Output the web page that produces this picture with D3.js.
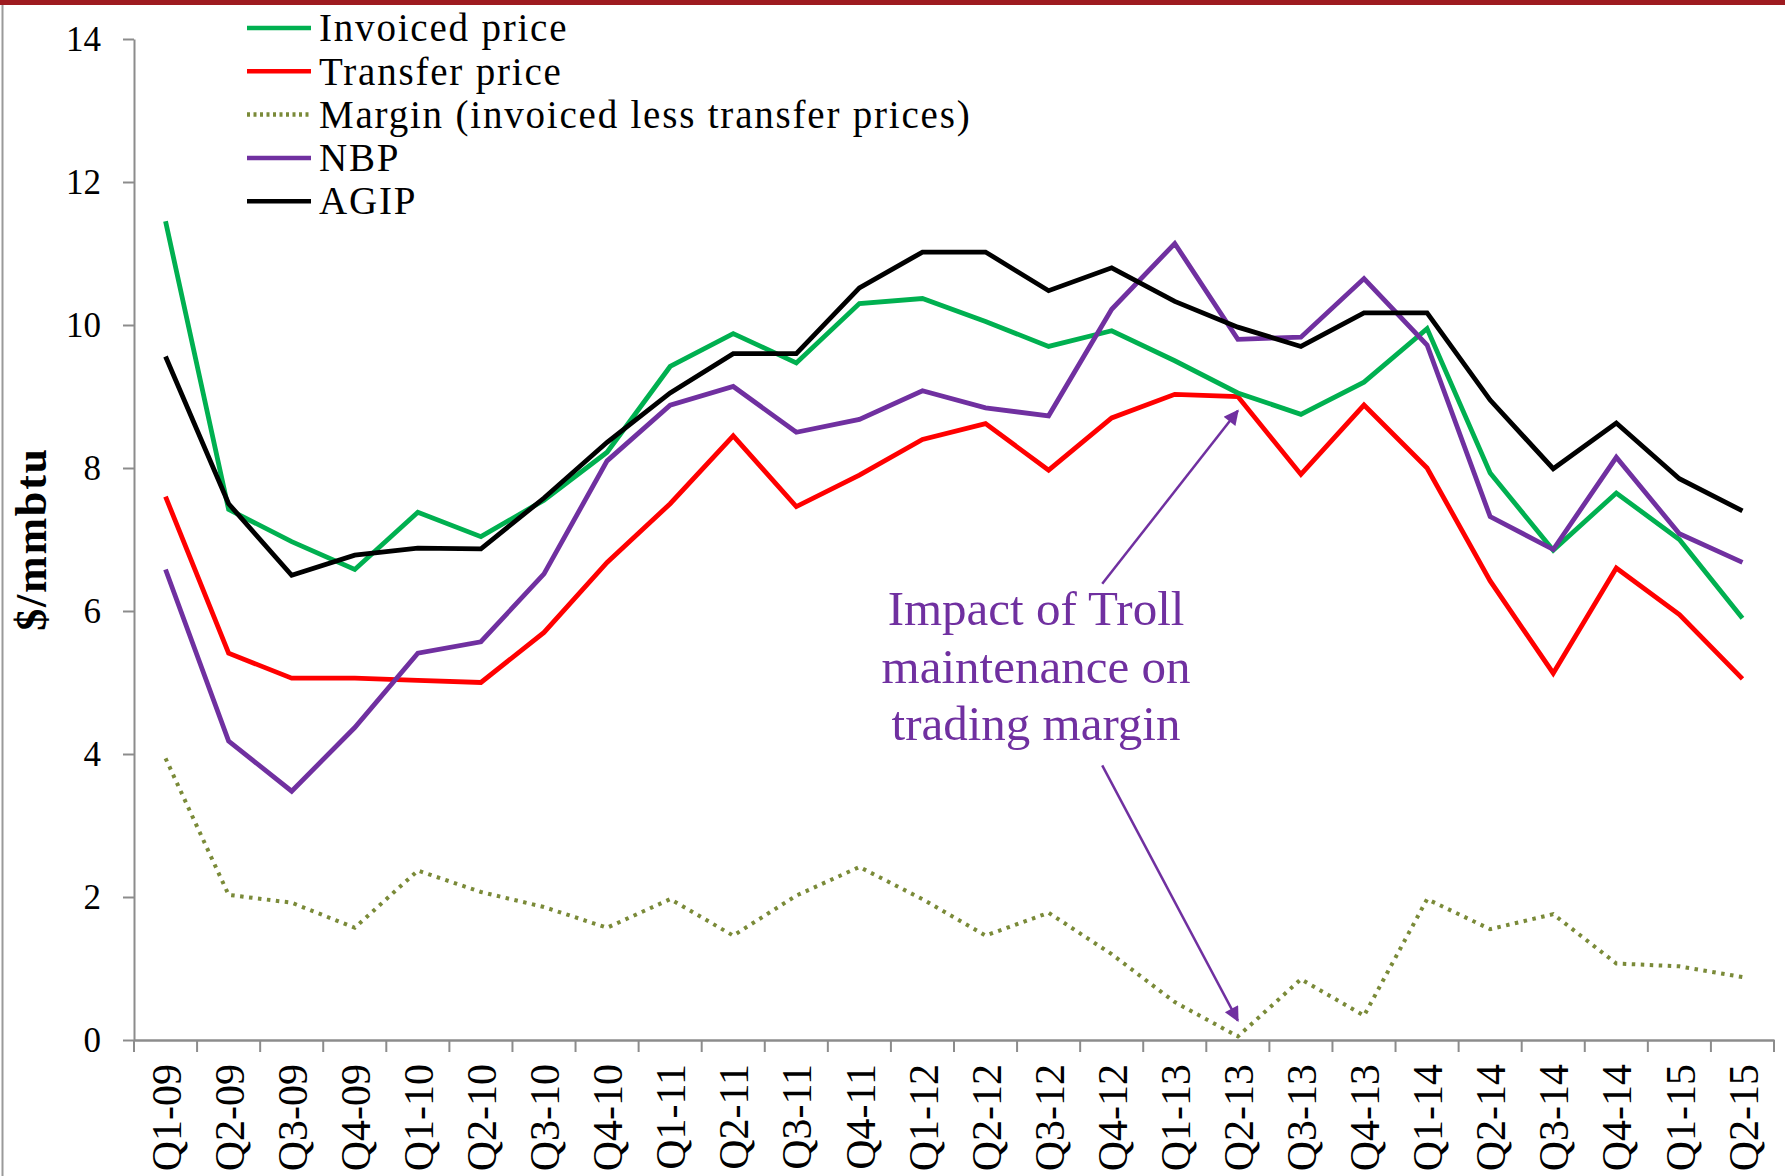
<!DOCTYPE html>
<html>
<head>
<meta charset="utf-8">
<script src="https://cdn.jsdelivr.net/npm/d3@7"></script>
<style>
  html, body { margin: 0; padding: 0; background: #fff; }
  svg { display: block; }
</style>
</head>
<body>
<div id="chart"></div>
<script>
/* Quarterly gas prices: invoiced vs transfer, margin, NBP and AGIP ($/mmbtu) */
var quarters = ["Q1-09","Q2-09","Q3-09","Q4-09","Q1-10","Q2-10","Q3-10","Q4-10",
  "Q1-11","Q2-11","Q3-11","Q4-11","Q1-12","Q2-12","Q3-12","Q4-12",
  "Q1-13","Q2-13","Q3-13","Q4-13","Q1-14","Q2-14","Q3-14","Q4-14","Q1-15","Q2-15"];

var invoiced = [11.45, 7.42, 6.97, 6.58, 7.38, 7.04, 7.55, 8.22, 9.42, 9.88, 9.47, 10.3,
  10.37, 10.05, 9.7, 9.92, 9.5, 9.05, 8.75, 9.2, 9.95, 7.93, 6.85, 7.65, 7.0, 5.9];
var transfer = [7.6, 5.41, 5.06, 5.06, 5.03, 5.0, 5.7, 6.68, 7.5, 8.45, 7.46, 7.9,
  8.4, 8.62, 7.97, 8.7, 9.03, 9.0, 7.91, 8.88, 8.0, 6.42, 5.13, 6.6, 5.95, 5.05];
var margin = [3.94, 2.03, 1.92, 1.57, 2.37, 2.07, 1.86, 1.57, 1.97, 1.46, 2.02, 2.42,
  1.97, 1.46, 1.78, 1.2, 0.53, 0.05, 0.85, 0.34, 1.97, 1.55, 1.76, 1.07, 1.03, 0.88];
var nbp = [6.58, 4.18, 3.48, 4.37, 5.41, 5.57, 6.52, 8.1, 8.88, 9.14, 8.5, 8.68,
  9.08, 8.84, 8.73, 10.22, 11.14, 9.8, 9.83, 10.65, 9.72, 7.32, 6.86, 8.15, 7.08, 6.68];
var agip = [9.56, 7.5, 6.5, 6.78, 6.88, 6.87, 7.58, 8.36, 9.05, 9.6, 9.6, 10.52,
  11.02, 11.02, 10.48, 10.8, 10.33, 9.97, 9.7, 10.17, 10.17, 8.95, 7.99, 8.63, 7.85, 7.4];

var yTicks = [0, 2, 4, 6, 8, 10, 12, 14];

var series = [
  { name: "Invoiced price", values: invoiced, color: "#00b050", dash: null },
  { name: "Transfer price", values: transfer, color: "#ff0000", dash: null },
  { name: "Margin (invoiced less transfer prices)", values: margin, color: "#7a8a38", dash: "3.5,5.5" },
  { name: "NBP", values: nbp, color: "#7030a0", dash: null },
  { name: "AGIP", values: agip, color: "#000000", dash: null }
];

// annotation in data units: index along quarters, value on y
var noteLines = ["Impact of Troll", "maintenance on", "trading margin"];
var noteAt = { i: 13.8, v: 5.8, step: 0.8 };
var arrows = [
  { from: [14.85, 6.38], to: [17.0, 8.8] },
  { from: [14.85, 3.84], to: [17.0, 0.27] }
];

(function () {
  var W = 1785, H = 1176;
  var svg = d3.select("#chart").append("svg").attr("width", W).attr("height", H);
  var serif = "'Liberation Serif', 'Times New Roman', serif";
  var axisGrey = "#8c8c8c";

  // frame bits from the slide
  svg.append("rect").attr("x", 0).attr("y", 0).attr("width", W).attr("height", 5).attr("fill", "#9e1b20");
  svg.append("line").attr("x1", 2.5).attr("x2", 2.5).attr("y1", 5).attr("y2", H)
    .attr("stroke", "#9a9a9a").attr("stroke-width", 2);

  var x = d3.scaleBand().domain(quarters).range([134, 1774]);
  var bw = x.bandwidth();
  var y = d3.scaleLinear().domain([0, 14]).range([1040, 39]);
  var xi = d3.scaleLinear().domain([0, quarters.length - 1])
    .range([x(quarters[0]) + bw / 2, x(quarters[quarters.length - 1]) + bw / 2]);

  // y axis
  var gy = svg.append("g").attr("transform", "translate(134,0)")
    .call(d3.axisLeft(y).tickValues(yTicks).tickSize(11).tickSizeOuter(0).tickPadding(22));
  gy.select(".domain").attr("stroke", axisGrey).attr("stroke-width", 2);
  gy.selectAll(".tick line").attr("stroke", axisGrey).attr("stroke-width", 2);
  gy.selectAll(".tick text").style("font-family", serif).style("font-size", "35px")
    .attr("fill", "#000");

  // x axis, ticks on category boundaries
  var gx = svg.append("g").attr("transform", "translate(0,1040)")
    .call(d3.axisBottom(x).tickSize(0).tickSizeOuter(0).tickPadding(0));
  gx.select(".domain").attr("stroke", axisGrey).attr("stroke-width", 2.5);
  gx.selectAll(".tick text").style("font-family", serif).style("font-size", "42px")
    .attr("fill", "#000").attr("text-anchor", "end")
    .attr("transform", "rotate(-90)").attr("x", -24).attr("y", 0).attr("dy", "0.36em");
  var bounds = quarters.map(function (q) { return x(q); }).concat([x.range()[1]]);
  gx.selectAll("line.bnd").data(bounds).join("line").attr("class", "bnd")
    .attr("x1", function (d) { return d; }).attr("x2", function (d) { return d; })
    .attr("y1", 0).attr("y2", 12).attr("stroke", axisGrey).attr("stroke-width", 2);

  // y title
  svg.append("text").attr("transform", "translate(46,539) rotate(-90)")
    .attr("text-anchor", "middle").style("font-family", serif).attr("font-weight", "bold")
    .style("font-size", "44px").attr("letter-spacing", "1.8px").text("$/mmbtu");

  // lines
  var line = d3.line().x(function (d, i) { return xi(i); }).y(function (d) { return y(d); });
  var drawOrder = [2, 1, 0, 3, 4];
  drawOrder.forEach(function (k) {
    var s = series[k];
    svg.append("path").datum(s.values).attr("d", line).attr("fill", "none")
      .attr("stroke", s.color).attr("stroke-width", s.dash ? 4 : 4.8)
      .attr("stroke-linejoin", "miter").attr("stroke-dasharray", s.dash);
  });

  // legend
  var lg = svg.append("g").attr("transform", "translate(247,28)");
  var rows = lg.selectAll("g").data(series).join("g")
    .attr("transform", function (d, i) { return "translate(0," + (i * 43.3) + ")"; });
  rows.append("line").attr("x1", 0).attr("x2", 64).attr("y1", 0).attr("y2", 0)
    .attr("stroke", function (d) { return d.color; }).attr("stroke-width", 4.5)
    .attr("stroke-dasharray", function (d) { return d.dash ? "3,3.5" : null; });
  rows.append("text").attr("x", 72).attr("dy", "0.34em").style("font-family", serif)
    .style("font-size", "39px").attr("letter-spacing", "1.8px").attr("fill", "#000")
    .text(function (d) { return d.name; });

  // annotation
  var purple = "#7030a0";
  svg.append("defs").append("marker").attr("id", "head")
    .attr("viewBox", "0 0 10 10").attr("refX", 9).attr("refY", 5)
    .attr("markerWidth", 7).attr("markerHeight", 6).attr("markerUnits", "strokeWidth")
    .attr("orient", "auto")
    .append("path").attr("d", "M0,0 L10,5 L0,10 z").attr("fill", purple);
  svg.selectAll("line.arrow").data(arrows).join("line").attr("class", "arrow")
    .attr("x1", function (d) { return xi(d.from[0]); }).attr("y1", function (d) { return y(d.from[1]); })
    .attr("x2", function (d) { return xi(d.to[0]); }).attr("y2", function (d) { return y(d.to[1]); })
    .attr("stroke", purple).attr("stroke-width", 2.5).attr("marker-end", "url(#head)");
  svg.selectAll("text.note").data(noteLines).join("text").attr("class", "note")
    .attr("x", xi(noteAt.i)).attr("y", function (d, i) { return y(noteAt.v - i * noteAt.step); })
    .attr("text-anchor", "middle").style("font-family", serif).style("font-size", "49px")
    .attr("fill", purple).text(function (d) { return d; });
})();
</script>
</body>
</html>
